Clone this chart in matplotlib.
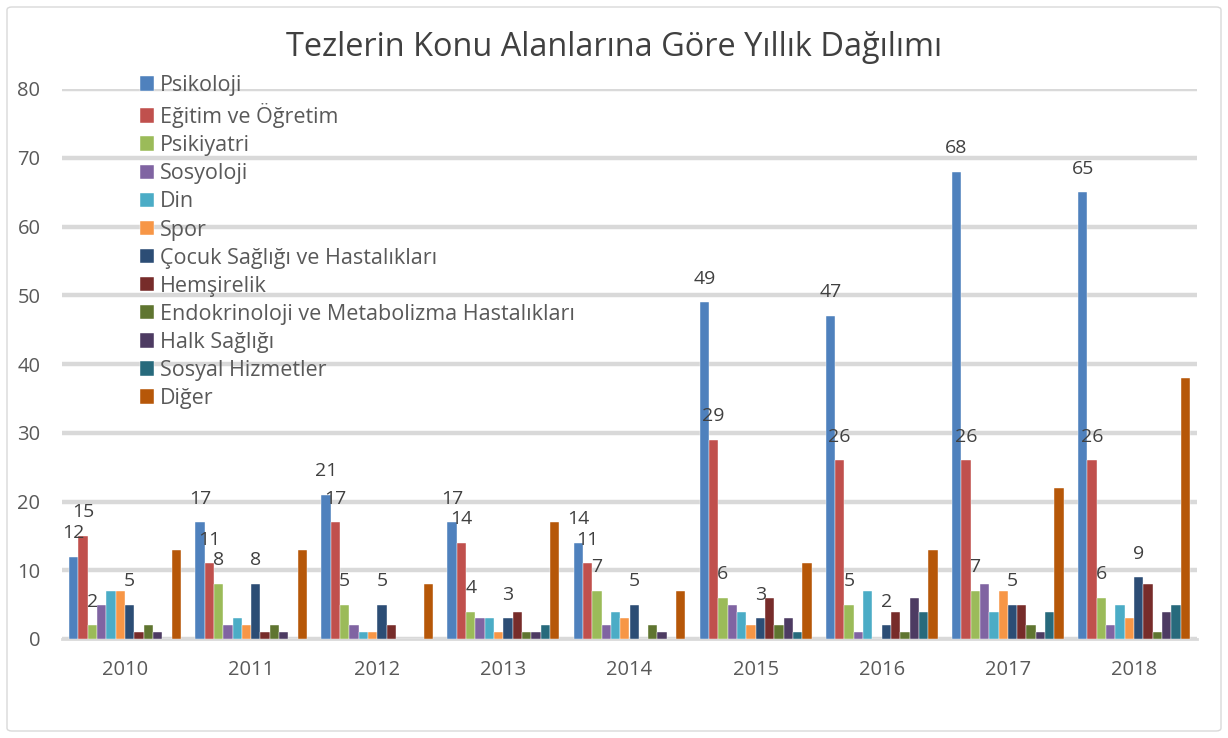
import matplotlib
matplotlib.use('Agg')
import numpy as np
import matplotlib.pyplot as plt
from matplotlib.patches import FancyBboxPatch

plt.rcParams['font.family'] = ['Open Sans', 'DejaVu Sans']

years = ['2010', '2011', '2012', '2013', '2014', '2015', '2016', '2017', '2018']
topics = ['Psikoloji', 'Eğitim ve Öğretim', 'Psikiyatri', 'Sosyoloji', 'Din', 'Spor',
          'Çocuk Sağlığı ve Hastalıkları', 'Hemşirelik',
          'Endokrinoloji ve Metabolizma Hastalıkları', 'Halk Sağlığı',
          'Sosyal Hizmetler', 'Diğer']

psikoloji  = [12, 17, 21, 17, 14, 49, 47, 68, 65]
egitim     = [15, 11, 17, 14, 11, 29, 26, 26, 26]
psikiyatri = [2, 8, 5, 4, 7, 6, 5, 7, 6]
sosyoloji  = [5, 2, 2, 3, 2, 5, 1, 8, 2]
din        = [7, 3, 1, 3, 4, 4, 7, 4, 5]
spor       = [7, 2, 1, 1, 3, 2, 0, 7, 3]
cocuk      = [5, 8, 5, 3, 5, 3, 2, 5, 9]
hemsirelik = [1, 1, 2, 4, 0, 6, 4, 5, 8]
endokrin   = [2, 2, 0, 1, 2, 2, 1, 2, 1]
halk       = [1, 1, 0, 1, 1, 3, 6, 1, 4]
sosyal     = [0, 0, 0, 2, 0, 1, 4, 4, 5]
diger      = [13, 13, 8, 17, 7, 11, 13, 22, 38]

series = [psikoloji, egitim, psikiyatri, sosyoloji, din, spor,
          cocuk, hemsirelik, endokrin, halk, sosyal, diger]
labelled = [0, 1, 2, 6]  # series with data labels

colors = ['#4F81BD', '#C0504D', '#9BBB59', '#8064A2', '#4BACC6', '#F79646',
          '#2C4D75', '#772C2A', '#5F7530', '#4D3B62', '#276A7C', '#B65708']

W, H = 1228, 738
fig = plt.figure(figsize=(W / 100, H / 100), dpi=100)
ax = fig.add_axes([62 / W, 1 - 639 / H, (1197 - 62) / W, (639 - 89) / H])

x = np.arange(len(years))
bw = 0.074
n = len(series)
for i, vals in enumerate(series):
    pos = x + (i - (n - 1) / 2) * bw
    ax.bar(pos, vals, width=bw, color=colors[i], label=topics[i], zorder=3,
           edgecolor='white', linewidth=0.3)
    if i in labelled:
        for px, v in zip(pos, vals):
            ax.annotate(str(v), (px, v), xytext=(0, 17), textcoords='offset points',
                        ha='center', va='center', fontsize=14, color='#404040', zorder=5)

ax.set_xlim(-0.5, len(years) - 0.5)
ax.set_ylim(0, 80)
ax.set_yticks(range(0, 81, 10))
ax.set_xticks(x)
ax.set_xticklabels(years)
ax.tick_params(axis='both', length=0, labelsize=14.5, colors='#595959')
ax.tick_params(axis='y', pad=15.5)
ax.tick_params(axis='x', pad=15)
ax.yaxis.grid(True, color='#d9d9d9', linewidth=3.2, zorder=0)
ax.set_axisbelow(True)
for s in ['top', 'right', 'left']:
    ax.spines[s].set_visible(False)
ax.spines['bottom'].set_color('#d9d9d9')
ax.spines['bottom'].set_linewidth(2)

leg = fig.legend(loc='upper left', bbox_to_anchor=(140 / W, 1 - 75 / H),
                 frameon=False, fontsize=15.5, handlelength=0.65, handleheight=0.65,
                 handletextpad=0.28, labelspacing=0.33, borderpad=0, borderaxespad=0)
for t in leg.get_texts():
    t.set_color('#595959')

fig.text(0.5, 1 - 48 / H, 'Tezlerin Konu Alanlarına Göre Yıllık Dağılımı',
         ha='center', va='center', fontsize=23.4, color='#404040')

border = FancyBboxPatch((7 / W, 7 / H), 1 - 14 / W, 1 - 14 / H,
                        boxstyle='round,pad=0,rounding_size=0.004',
                        transform=fig.transFigure, fill=False,
                        edgecolor='#d9d9d9', linewidth=1)
fig.patches.append(border)

plt.savefig('out.png', dpi=100)
